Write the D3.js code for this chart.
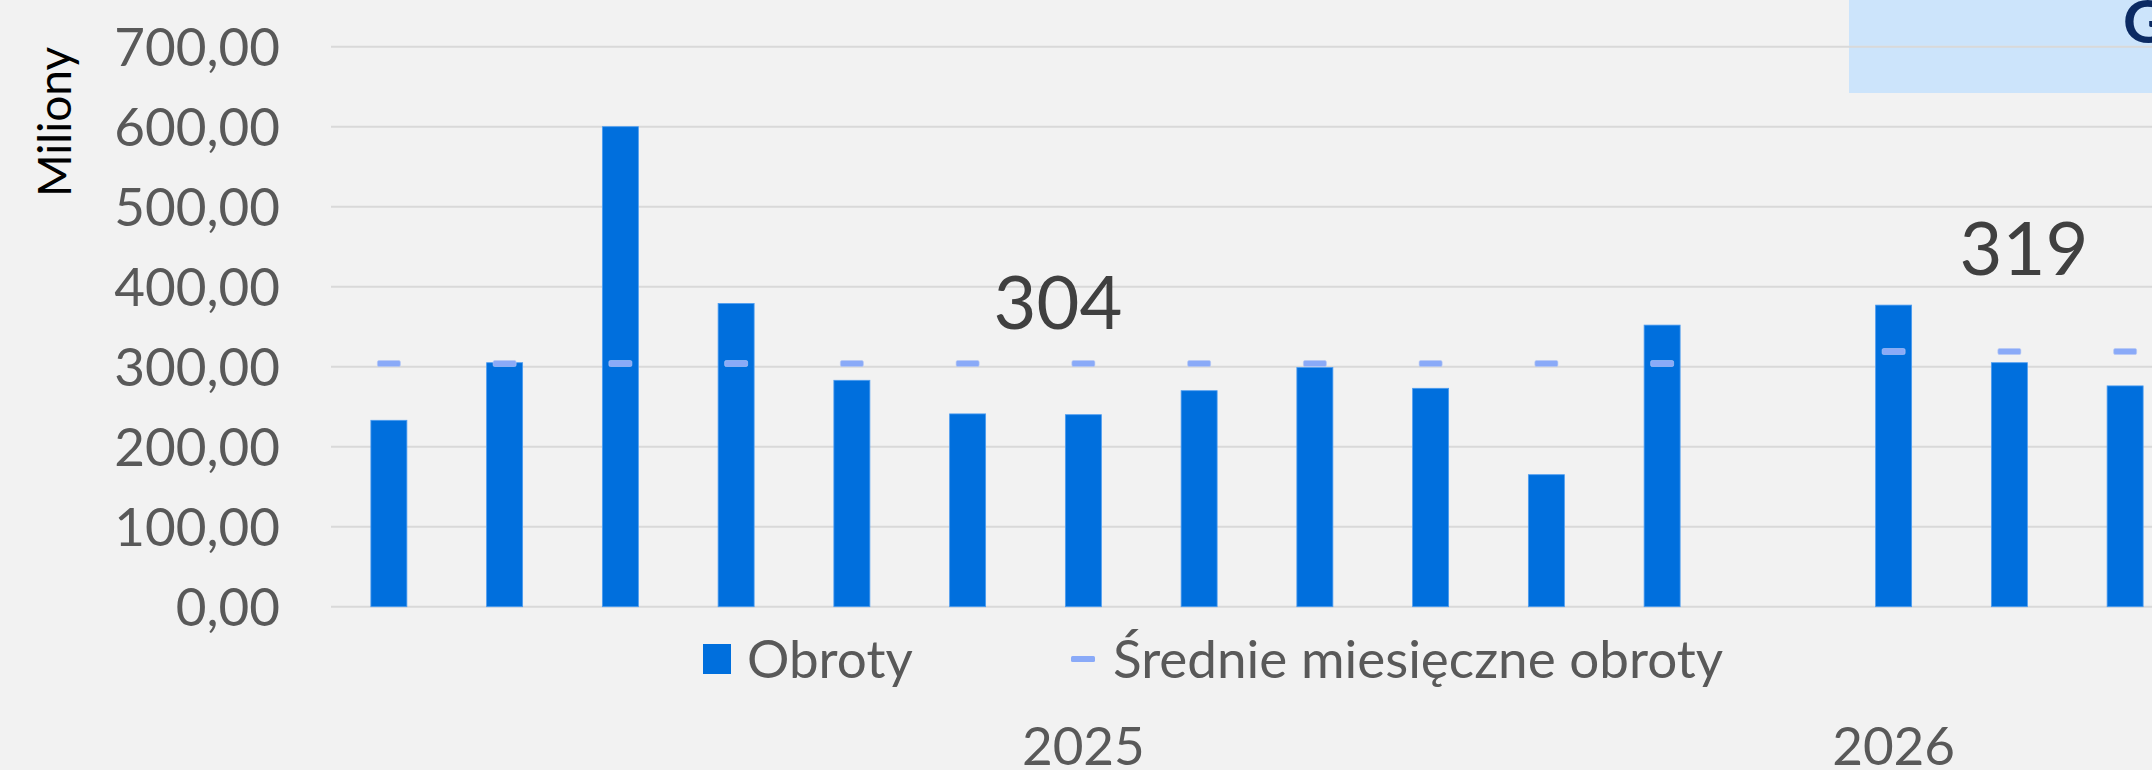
<!DOCTYPE html>
<html>
<head>
    <meta charset="utf-8">
    <style>
        html, body {
            margin: 0;
            padding: 0;
            background-color: #F2F2F2;
            overflow: hidden;
        }
        text {
            font-family: Lato, "Open Sans", sans-serif;
        }
    </style>
</head>
<body>
<div class="board"></div>
<script src="https://d3js.org/d3.v7.min.js"></script>
<script>
    // data (values in millions)
    const months = ["sty 2025", "lut 2025", "mar 2025", "kwi 2025", "maj 2025", "cze 2025",
        "lip 2025", "sie 2025", "wrz 2025", "paź 2025", "lis 2025", "gru 2025", "",
        "sty 2026", "lut 2026", "mar 2026"]
    const obroty = [233, 305, 600, 379, 283, 241, 240, 270, 299, 273, 165, 352, null, 377, 305, 276]
    const srednie = [304, 304, 304, 304, 304, 304, 304, 304, 304, 304, 304, 304, null, 319, 319, 319]
    const years = ["2025", "2026"]
    const yearFirst = [0, 13]
    const yearLast = [12, 13]
    const yTicks = [0, 100, 200, 300, 400, 500, 600, 700]
    const avgLabels = ["304", "319"]

    const W = 2152, H = 770
    const BLUE = "#006FDD"
    const DASH = "#8AAAF8"
    const GREY = "#595959"

    const svg = d3.select(".board")
        .append("svg")
        .attr("width", W)
        .attr("height", H)

    const step = 115.75
    const x = d3.scaleBand()
        .domain(d3.range(months.length))
        .range([331, 331 + months.length * step])
        .paddingInner(1 - 36 / step)
        .paddingOuter((1 - 36 / step) / 2)

    const y = d3.scaleLinear()
        .domain([0, 700])
        .range([606.7, 46.7])

    const pl = d3.formatLocale({ decimal: ",", thousands: " ", grouping: [3], currency: ["", " zł"] })
    const fmt = pl.format(".2f")

    // top-right title box (cut off)
    svg.append("rect")
        .attr("x", 1849).attr("y", 0)
        .attr("width", W - 1849).attr("height", 93)
        .attr("fill", "#CCE4FB")
    svg.append("text")
        .attr("x", 2123).attr("y", 43)
        .attr("font-size", 60)
        .attr("font-weight", "bold")
        .attr("fill", "#0B2A63")
        .text("G")

    // grid
    svg.append("g")
        .selectAll("line")
        .data(yTicks)
        .enter()
        .append("line")
        .attr("x1", 331).attr("x2", W)
        .attr("y1", d => y(d)).attr("y2", d => y(d))
        .attr("stroke", "#D9D9D9")
        .attr("stroke-width", 2)

    // y axis labels
    const yAxis = svg.append("g")
        .attr("transform", "translate(280,0)")
        .call(d3.axisLeft(y).tickValues(yTicks).tickFormat(fmt).tickSize(0).tickPadding(0))
    yAxis.select(".domain").remove()
    yAxis.selectAll("text")
        .attr("font-family", "Lato, sans-serif")
        .attr("font-size", 53)
        .attr("fill", GREY)
        .attr("dy", "0.36em")

    svg.append("text")
        .attr("transform", "translate(71,122) rotate(-90)")
        .attr("text-anchor", "middle")
        .attr("font-size", 46)
        .attr("fill", "#000")
        .text("Miliony")

    // bars
    svg.append("g")
        .selectAll("rect")
        .data(obroty.map((v, i) => ({ v, i })).filter(d => d.v != null))
        .enter()
        .append("rect")
        .attr("x", d => x(d.i))
        .attr("y", d => y(d.v))
        .attr("width", x.bandwidth())
        .attr("height", d => y(0) - y(d.v))
        .attr("fill", BLUE)
        .attr("stroke", "#4C9CF0")
        .attr("stroke-width", 0.8)

    // average dashes
    svg.append("g")
        .selectAll("rect")
        .data(srednie.map((v, i) => ({ v, i })).filter(d => d.v != null))
        .enter()
        .append("rect")
        .attr("x", d => x(d.i) + x.bandwidth() / 2 - 11.5)
        .attr("y", d => y(d.v) - 3)
        .attr("width", 23)
        .attr("height", 6)
        .attr("rx", 1.5)
        .attr("fill", DASH)
        .attr("stroke", "#B5C8F5")
        .attr("stroke-width", 0.6)

    // average labels
    const avgX = [1058, 2024]
    const avgY = [329, 275]
    svg.append("g")
        .selectAll("text")
        .data(avgLabels)
        .enter()
        .append("text")
        .attr("x", (d, i) => avgX[i])
        .attr("y", (d, i) => avgY[i])
        .attr("text-anchor", "middle")
        .attr("font-size", 74)
        .attr("fill", "#404040")
        .text(d => d)

    // year labels
    svg.append("g")
        .selectAll("text")
        .data(years)
        .enter()
        .append("text")
        .attr("x", (d, i) => (x(yearFirst[i]) - x.step() * x.paddingInner() / 2 + x(yearLast[i]) + x.bandwidth() + x.step() * x.paddingInner() / 2) / 2)
        .attr("y", 765)
        .attr("text-anchor", "middle")
        .attr("font-size", 53)
        .attr("fill", GREY)
        .text(d => d)

    // legend
    const legend = svg.append("g")
    legend.append("rect")
        .attr("x", 703).attr("y", 644)
        .attr("width", 28).attr("height", 30)
        .attr("fill", BLUE)
    legend.append("text")
        .attr("x", 747).attr("y", 678)
        .attr("font-size", 53)
        .attr("fill", GREY)
        .text("Obroty")
    legend.append("rect")
        .attr("x", 1071).attr("y", 656)
        .attr("width", 24).attr("height", 6)
        .attr("rx", 1.5)
        .attr("fill", DASH)
    legend.append("text")
        .attr("x", 1113).attr("y", 678)
        .attr("font-size", 53)
        .attr("fill", GREY)
        .text("Średnie miesięczne obroty")
</script>
</body>
</html>
